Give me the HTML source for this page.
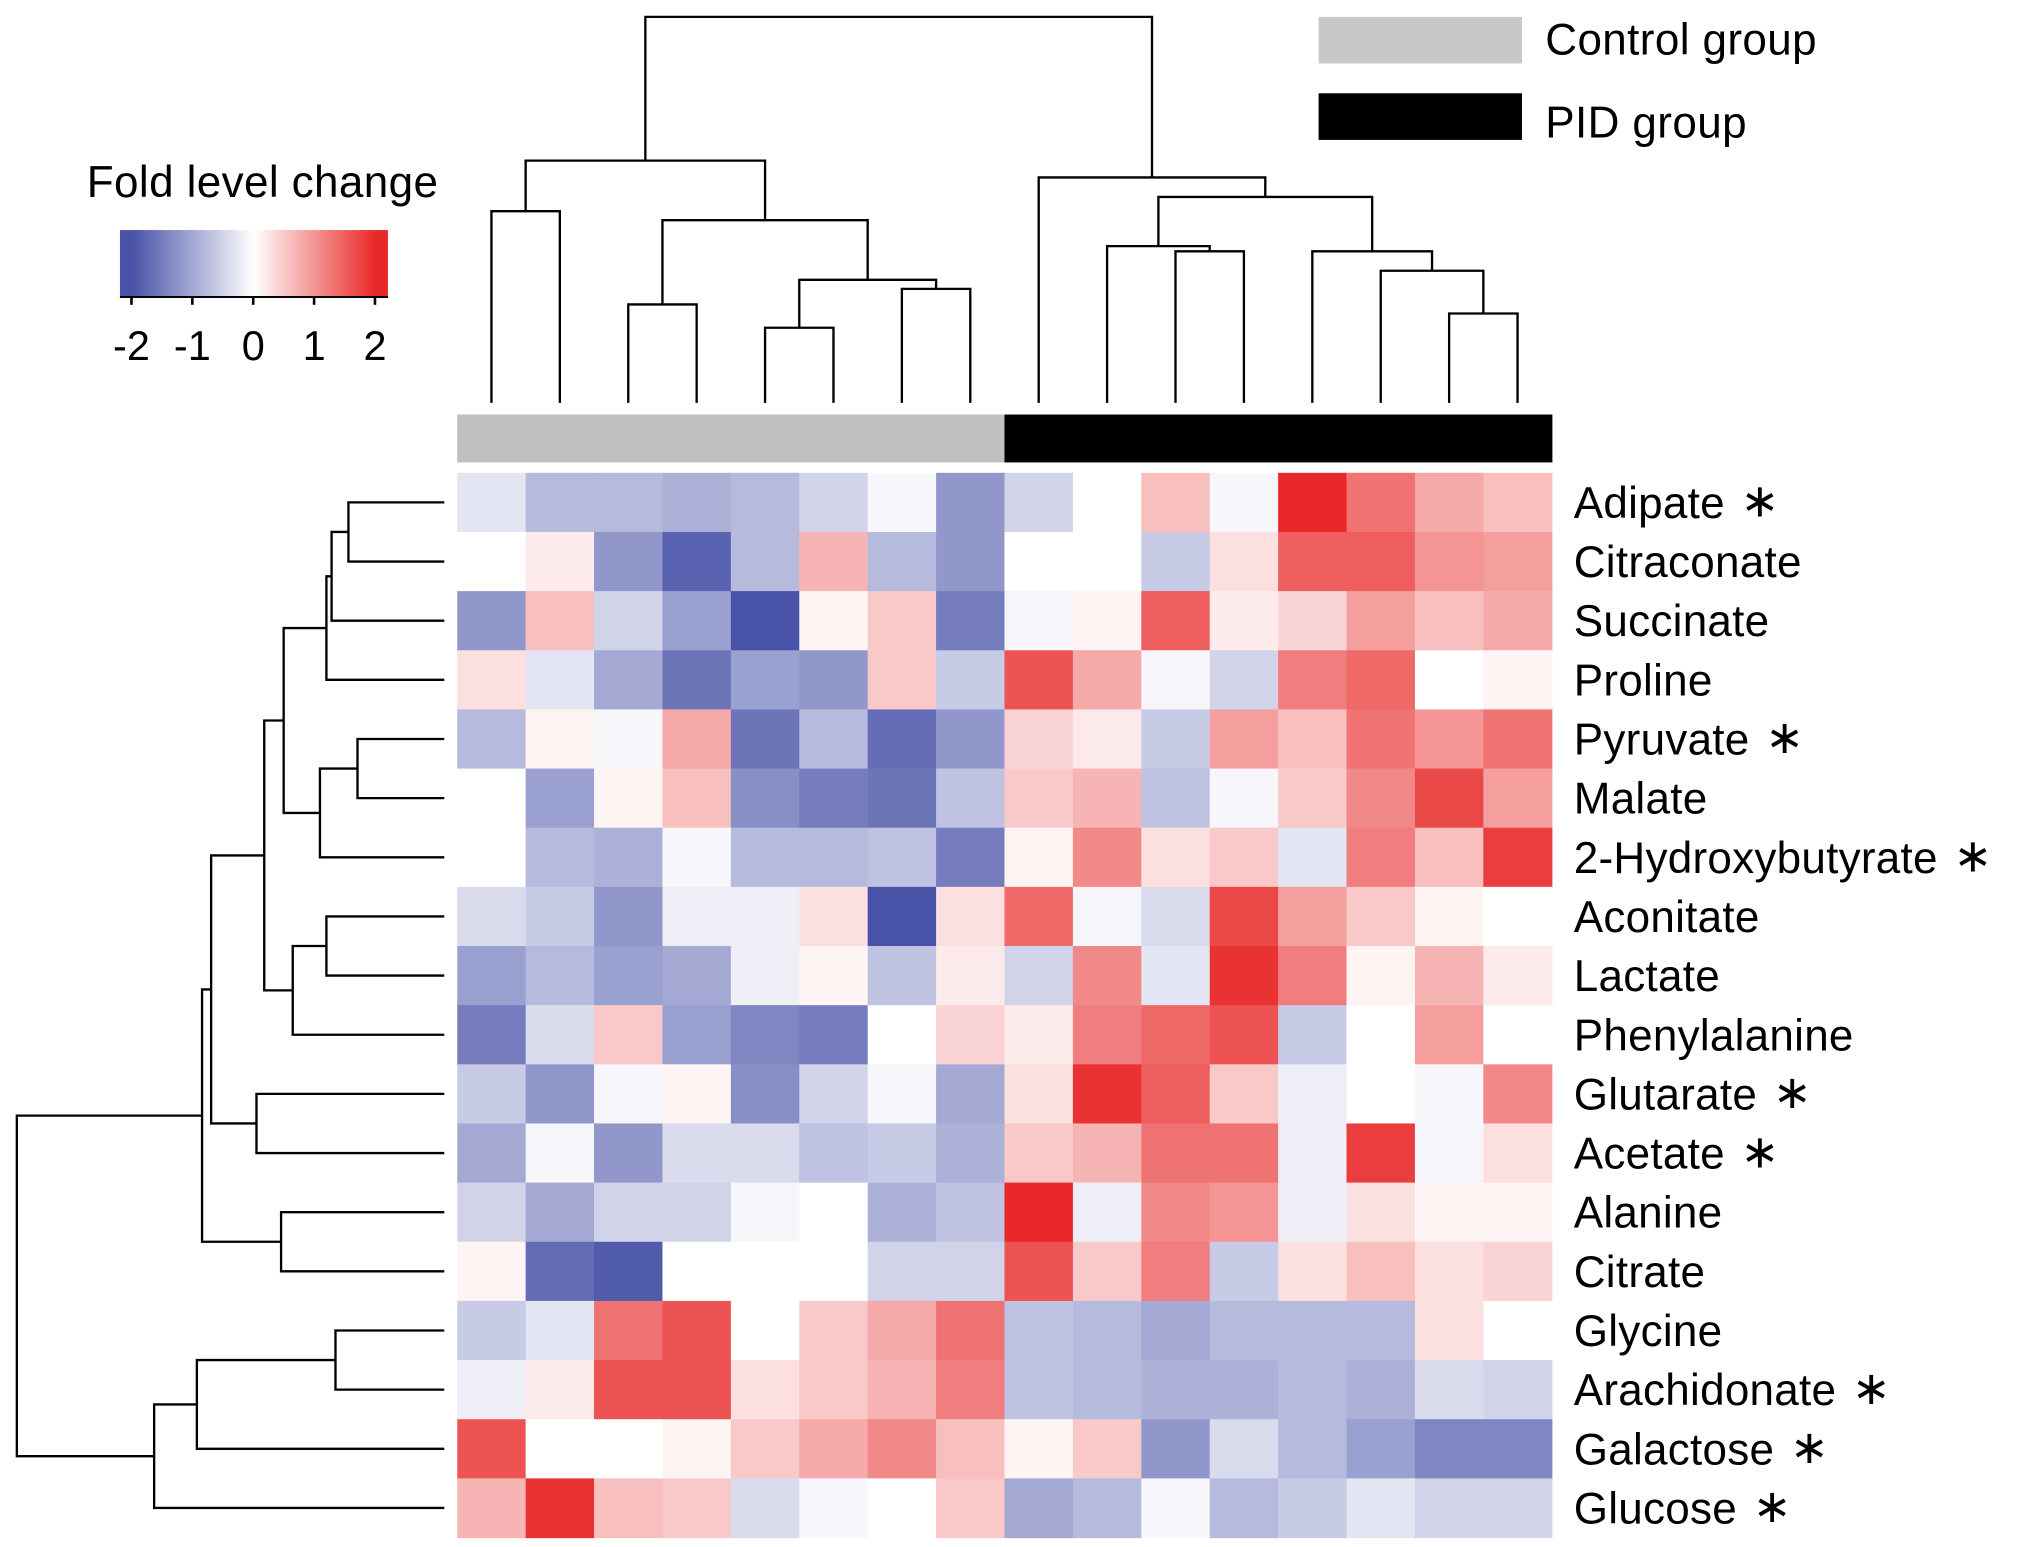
<!DOCTYPE html>
<html><head><meta charset="utf-8"><style>
html,body{margin:0;padding:0;background:#fff;}
svg{display:block;}
text{font-family:"Liberation Sans",Arial,sans-serif;fill:#000;}
</style></head><body>
<svg id="chart" width="2031" height="1547" viewBox="0 0 1568 1194.3" xmlns="http://www.w3.org/2000/svg"></svg>
<script>
const metabolites = ["Adipate *","Citraconate","Succinate","Proline","Pyruvate *","Malate","2-Hydroxybutyrate *","Aconitate","Lactate","Phenylalanine","Glutarate *","Acetate *","Alanine","Citrate","Glycine","Arachidonate *","Galactose *","Glucose *"];
const sampleGroups = ["control","control","control","control","control","control","control","control","pid","pid","pid","pid","pid","pid","pid","pid"];
const foldValues = [
[-0.3,-0.8,-0.8,-0.9,-0.8,-0.5,-0.1,-1.2, -0.5,0,0.6,-0.1,2,1.3,0.8,0.6],
[0,0.2,-1.2,-1.8,-0.8,0.7,-0.8,-1.2, 0,0,-0.6,0.3,1.5,1.5,1.0,0.9],
[-1.2,0.6,-0.5,-1.1,-2,0.1,0.5,-1.5, -0.1,0.1,1.5,0.2,0.4,0.9,0.6,0.8],
[0.3,-0.3,-1.0,-1.6,-1.1,-1.2,0.5,-0.6, 1.6,0.8,-0.1,-0.5,1.2,1.4,0,0.1],
[-0.8,0.1,-0.1,0.8,-1.6,-0.8,-1.7,-1.2, 0.4,0.2,-0.6,0.9,0.6,1.3,1.0,1.3],
[0,-1.1,0.1,0.6,-1.3,-1.5,-1.6,-0.7, 0.5,0.7,-0.7,-0.1,0.5,1.1,1.7,0.9],
[0,-0.8,-0.9,-0.1,-0.8,-0.8,-0.7,-1.5, 0.1,1.1,0.3,0.5,-0.3,1.2,0.6,1.8],
[-0.4,-0.6,-1.2,-0.2,-0.2,0.3,-2,0.3, 1.4,-0.1,-0.4,1.7,0.9,0.5,0.1,0],
[-1.1,-0.8,-1.1,-1.0,-0.2,0.1,-0.7,0.2, -0.5,1.1,-0.3,1.9,1.2,0.1,0.7,0.2],
[-1.5,-0.4,0.5,-1.1,-1.4,-1.5,0,0.4, 0.2,1.2,1.4,1.6,-0.6,0,0.9,0],
[-0.6,-1.2,-0.1,0.1,-1.3,-0.5,-0.1,-1.0, 0.3,1.9,1.5,0.5,-0.2,0,-0.1,1.1],
[-1.0,-0.1,-1.2,-0.4,-0.4,-0.7,-0.6,-0.9, 0.5,0.7,1.3,1.3,-0.2,1.8,-0.1,0.3],
[-0.5,-1.0,-0.5,-0.5,-0.1,0,-0.9,-0.7, 2,-0.2,1.1,1.0,-0.2,0.3,0.1,0.1],
[0.1,-1.7,-1.9,0,0,0,-0.5,-0.5, 1.6,0.5,1.2,-0.6,0.3,0.6,0.3,0.4],
[-0.6,-0.3,1.3,1.6,0,0.5,0.8,1.3, -0.7,-0.8,-1.0,-0.8,-0.8,-0.8,0.3,0],
[-0.2,0.2,1.6,1.6,0.3,0.5,0.7,1.2, -0.7,-0.8,-0.9,-0.9,-0.8,-0.9,-0.4,-0.5],
[1.6,0,0,0.1,0.5,0.8,1.1,0.6, 0.1,0.5,-1.2,-0.4,-0.8,-1.1,-1.4,-1.4],
[0.7,1.9,0.6,0.5,-0.4,-0.1,0,0.5, -1.0,-0.8,-0.1,-0.8,-0.6,-0.3,-0.5,-0.5]
];
const colorTicks = [-2,-1,0,1,2];
const colorTickLabels = ["-2","-1","0","1","2"];
const colTree = [[[0,1,163],[[2,3,235],[[4,5,253],[6,7,223],216],170],124],[8,[[9,[10,11,194],190],[12,[13,[14,15,242],209],194],152],137],13];
const rowTree = [[[[[[[[0,1,269],2,256],3,252],[[4,5,276],6,247],219],[[7,8,252],9,226],204],[10,11,198],163],[12,13,217],156],[[[14,15,259],16,152],17,119],13];

const NS="http://www.w3.org/2000/svg";
const svg=document.getElementById('chart');
function mk(tag,attrs,parent){const e=document.createElementNS(NS,tag);for(const k in attrs)e.setAttribute(k,attrs[k]);(parent||svg).appendChild(e);return e;}
const hmX0=353,hmX1=1198,hmY0=365,hmY1=1187;
const nC=16,nR=18,cw=(hmX1-hmX0)/nC,rh=(hmY1-hmY0)/nR;
const xCol=i=>hmX0+cw*i, yRow=i=>hmY0+rh*i;
function color(v){
  const t=Math.max(-2,Math.min(2,v))/2;
  let lo=[255,255,255],hi;
  if(t<0){hi=[72,82,168];}else{hi=[232,40,40];}
  const a=Math.abs(t);
  return 'rgb('+lo.map((c,k)=>Math.round(c+(hi[k]-c)*a)).join(',')+')';
}
const gH=mk('g',{});


foldValues.forEach((row,r)=>row.forEach((v,c)=>{
  const rc=mk('rect',{x:xCol(c),y:yRow(r),width:cw+0.5,height:rh+0.5,fill:color(v)},gH);
  
  
}));
sampleGroups.forEach((g,c)=>{
  const rc=mk('rect',{x:xCol(c),y:320,width:cw+0.5,height:37,fill:g==='control'?'#c0c0c0':'#000'});
  
  
});
metabolites.forEach((m,r)=>{
  const star=m.endsWith(' *');
  const t=mk('text',{x:1215,y:yRow(r)+rh/2+12,'font-size':34,'letter-spacing':'0.2'});
  t.textContent=star?m.slice(0,-2):m;
  
  
  if(star){
    const s=mk('tspan',{dx:12,'font-size':36,'font-weight':'normal',dy:-1},t);
    s.textContent='∗';
  }
});
const gD=mk('g',{stroke:'#000','stroke-width':1.8,fill:'none'});


function drawCol(n){
  if(typeof n==='number') return [xCol(n)+cw/2,311];
  const a=drawCol(n[0]),b=drawCol(n[1]),h=n[2];
  mk('path',{d:`M${a[0]},${a[1]}V${h}H${b[0]}V${b[1]}`},gD);
  return [(a[0]+b[0])/2,h];
}
function drawRow(n){
  if(typeof n==='number') return [yRow(n)+rh/2,343];
  const a=drawRow(n[0]),b=drawRow(n[1]),h=n[2];
  mk('path',{d:`M${a[1]},${a[0]}H${h}V${b[0]}H${b[1]}`},gD);
  return [(a[0]+b[0])/2,h];
}
drawCol(colTree);drawRow(rowTree);
const l1=mk('rect',{x:1018,y:13,width:157,height:36,fill:'#c8c8c8'});

const l2=mk('rect',{x:1018,y:72,width:157,height:36,fill:'#000'});

const t1=mk('text',{x:1193,y:42,'font-size':34,'letter-spacing':'0.3'});t1.textContent='Control group';

const t2=mk('text',{x:1193,y:106,'font-size':34,'letter-spacing':'0.3'});t2.textContent='PID group';

const defs=mk('defs',{});
const lg=mk('linearGradient',{id:'cg',x1:0,x2:1,y1:0,y2:0},defs);
for(let i=0;i<=20;i++){const v=-2+4*i/20;mk('stop',{offset:(i/20),'stop-color':color(v*1.1)},lg);}
const cbX0=92.6,cbX1=299.5,cbY0=177.6,cbY1=229.3;
const cb=mk('rect',{x:cbX0,y:cbY0,width:cbX1-cbX0,height:cbY1-cbY0,fill:'url(#cg)'});

mk('line',{x1:cbX0,x2:cbX1,y1:cbY1,y2:cbY1,stroke:'#000','stroke-width':1.5});
const xScale=v=>101.5+(v+2)*(289.5-101.5)/4;
colorTicks.forEach((v,i)=>{
  mk('line',{x1:xScale(v),x2:xScale(v),y1:cbY1,y2:cbY1+6,stroke:'#000','stroke-width':2});
  const t=mk('text',{x:xScale(v),y:278,'font-size':32,'text-anchor':'middle'});
  t.textContent=colorTickLabels[i];
  
  
});
const ct=mk('text',{x:67,y:152,'font-size':34,'letter-spacing':'0.3'});ct.textContent='Fold level change';

</script>
</body></html>
